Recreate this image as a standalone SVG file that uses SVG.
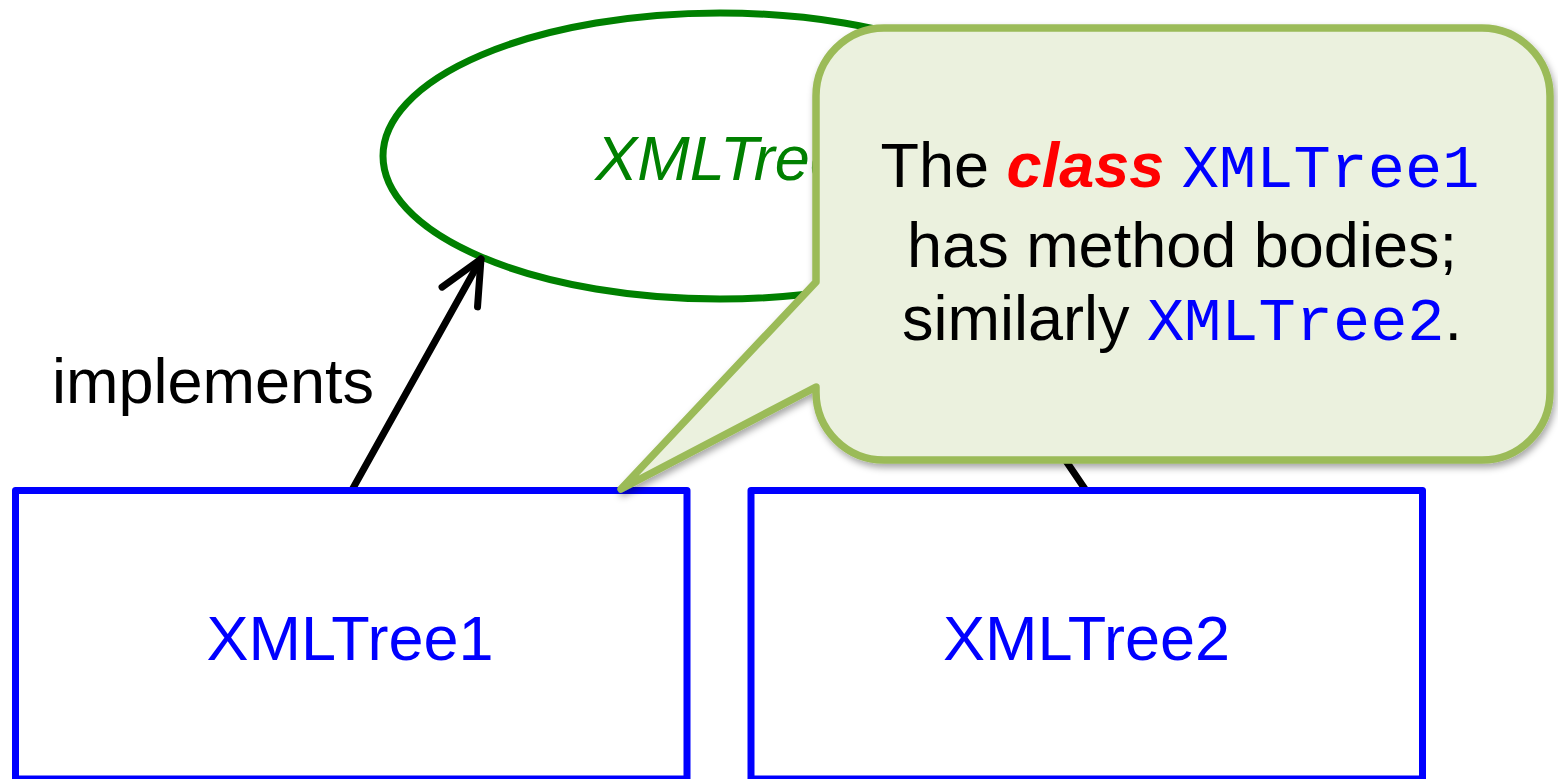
<svg xmlns="http://www.w3.org/2000/svg" width="1558" height="779" viewBox="0 0 1558 779">
  <style>
    .sans { font-family: "Liberation Sans", Arial, sans-serif; font-size: 63px; }
    .mono { font-family: "Liberation Mono", "Courier New", monospace; font-size: 62px; fill: #0000ff; }
    .iface { fill: #ffffff; stroke: #008000; stroke-width: 7; }
    .klass { fill: #ffffff; stroke: #0000ff; stroke-width: 7; stroke-linejoin: round; }
    .edge { fill: none; stroke: #000000; stroke-width: 7; stroke-linecap: round; }
    .note { fill: #ebf1de; stroke: #9bbb59; stroke-width: 7.5; stroke-linejoin: round; }
  </style>
  <defs>
    <!-- open V arrowhead for "implements" edges -->
    <marker id="openArrow" markerUnits="userSpaceOnUse" viewBox="-50 -26 56 52" refX="0" refY="0" markerWidth="56" markerHeight="52" orient="auto" overflow="visible">
      <path d="M -43.5 -20.3 L 0 0 L -43.5 20.3" fill="none" stroke="#000000" stroke-width="7" stroke-linecap="round" stroke-linejoin="round"/>
    </marker>
    <filter id="noteShadow" x="-10%" y="-10%" width="125%" height="130%">
      <feDropShadow dx="2" dy="4" stdDeviation="3.5" flood-color="#000000" flood-opacity="0.35"/>
    </filter>
  </defs>

  <!-- interface -->
  <g id="node-xmltree">
    <ellipse class="iface" cx="720" cy="156" rx="337" ry="143"/>
    <text class="sans" x="720" y="180" text-anchor="middle" fill="#008000" font-style="italic">XMLTree</text>
  </g>

  <!-- implements edges -->
  <g id="connectors">
    <line class="edge" x1="352" y1="490" x2="481" y2="259" marker-end="url(#openArrow)"/>
    <line class="edge" x1="1087" y1="492" x2="934" y2="266" marker-end="url(#openArrow)"/>
    <text class="sans" x="52" y="403" fill="#000000">implements</text>
  </g>

  <!-- implementing classes -->
  <g id="node-xmltree1">
    <rect class="klass" x="15.5" y="490.5" width="671.5" height="288.5"/>
    <text class="sans" x="350" y="660" text-anchor="middle" fill="#0000ff">XMLTree1</text>
  </g>
  <g id="node-xmltree2">
    <rect class="klass" x="751" y="490.5" width="671.5" height="288.5"/>
    <text class="sans" x="1086.5" y="660" text-anchor="middle" fill="#0000ff">XMLTree2</text>
  </g>

  <!-- callout note -->
  <g id="note">
    <path class="note" filter="url(#noteShadow)" d="M 884 28 H 1482 A 68 68 0 0 1 1550 96 V 392 A 68 68 0 0 1 1482 460 H 884 A 68 68 0 0 1 816 392 V 387 L 621 489 L 816 282 V 96 A 68 68 0 0 1 884 28 Z"/>
    <text class="sans" x="1180" y="187" text-anchor="middle" fill="#000000">The <tspan fill="#ff0000" font-weight="bold" font-style="italic">class</tspan> <tspan class="mono">XMLTree1</tspan></text>
    <text class="sans" x="1182" y="267" text-anchor="middle" fill="#000000">has method bodies;</text>
    <text class="sans" x="1182" y="340" text-anchor="middle" fill="#000000">similarly <tspan class="mono">XMLTree2</tspan>.</text>
  </g>
</svg>
